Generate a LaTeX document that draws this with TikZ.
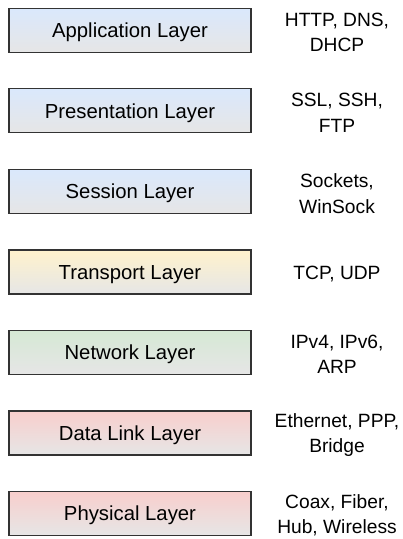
\documentclass[tikz,border=0pt]{standalone}
\usepackage{fontspec}
\setmainfont{Liberation Sans}
\definecolor{blueT}{HTML}{DAE8FC}
\definecolor{yellowT}{HTML}{FFF2CC}
\definecolor{greenT}{HTML}{D5E8D4}
\definecolor{redT}{HTML}{F8CECC}
\definecolor{grayB}{HTML}{E6E6E6}
\definecolor{edge}{HTML}{333333}
\tikzset{
  layer/.style={draw=edge, line width=1.2pt, minimum width=242pt, minimum height=44pt,
    inner sep=0pt, text height=16.5pt, text depth=2pt, bottom color=grayB,
    font=\fontsize{20.3}{24}\selectfont},
  proto/.style={align=center, font=\fontsize{19.2}{25.5}\selectfont, inner sep=0pt},
}
\begin{document}
\begin{tikzpicture}[x=1pt,y=1pt]
\useasboundingbox (0,0) rectangle (403,-539);
\node[layer, top color=blueT] (app) at (130,-30.3) {Application Layer};
\node[layer, top color=blueT] (pres) at (130,-110.8) {Presentation Layer};
\node[layer, top color=blueT] (sess) at (130,-191.4) {Session Layer};
\node[layer, top color=yellowT] (trans) at (130,-271.9) {Transport Layer};
\node[layer, top color=greenT] (net) at (130,-352.4) {Network Layer};
\node[layer, top color=redT] (dl) at (130,-433.0) {Data Link Layer};
\node[layer, top color=redT] (phy) at (130,-513.5) {Physical Layer};
\node[proto] (papp) at (337,-32.3) {HTTP, DNS,\\DHCP};
\node[proto] (ppres) at (337,-112.8) {SSL, SSH,\\FTP};
\node[proto] (psess) at (337,-193.4) {Sockets,\\WinSock};
\node[proto] (ptrans) at (337,-273.9) {TCP, UDP};
\node[proto] (pnet) at (337,-354.4) {IPv4, IPv6,\\ARP};
\node[proto] (pdl) at (337,-435.0) {Ethernet, PPP,\\Bridge};
\node[proto] (pphy) at (337,-515.5) {Coax, Fiber,\\Hub, Wireless};
\end{tikzpicture}
\end{document}
